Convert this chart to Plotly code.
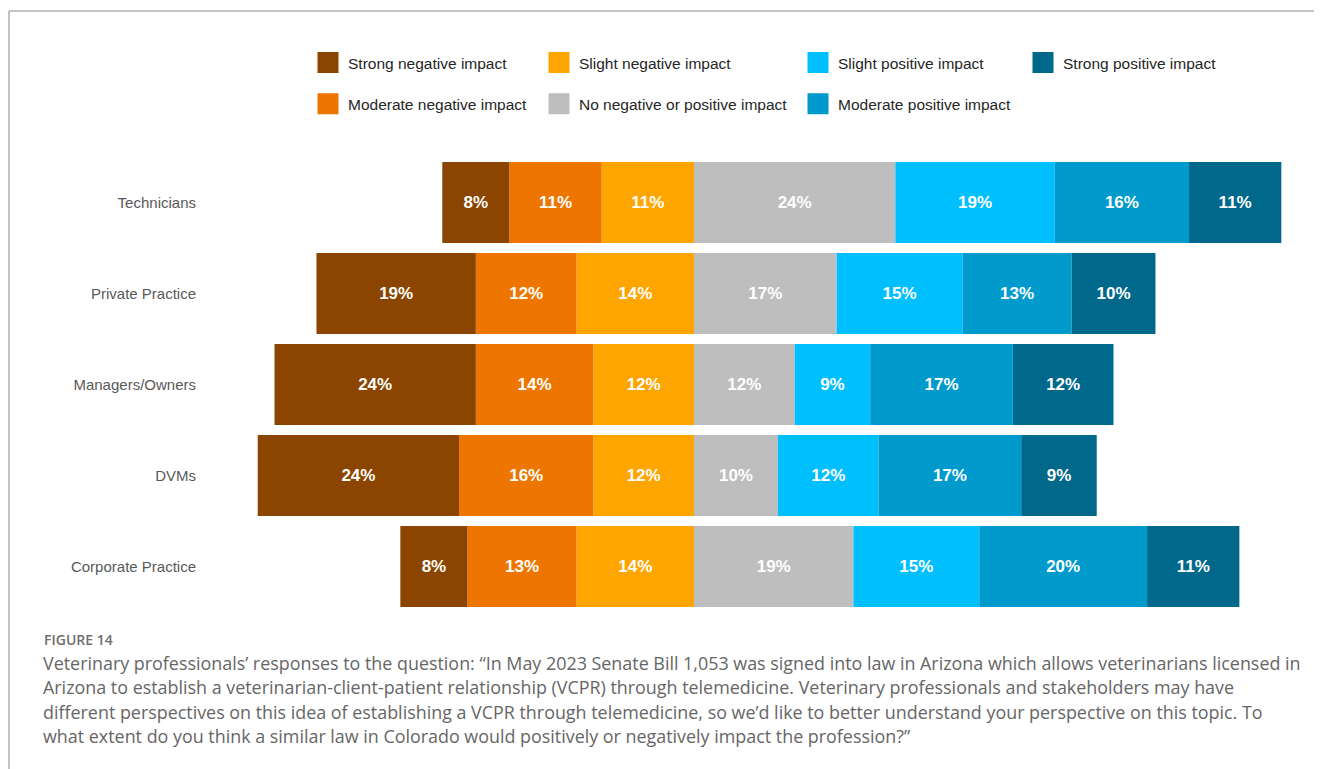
import plotly.graph_objects as go

groups = ["Technicians", "Private Practice", "Managers/Owners", "DVMs", "Corporate Practice"]

strong_neg = [8, 19, 24, 24, 8]
moderate_neg = [11, 12, 14, 16, 13]
slight_neg = [11, 14, 12, 12, 14]
neutral = [24, 17, 12, 10, 19]
slight_pos = [19, 15, 9, 12, 15]
moderate_pos = [16, 13, 17, 17, 20]
strong_pos = [11, 10, 12, 9, 11]

labels = ["Strong negative impact", "Moderate negative impact", "Slight negative impact",
          "No negative or positive impact", "Slight positive impact",
          "Moderate positive impact", "Strong positive impact"]
colors = ["#8B4500", "#EE7600", "#FFA500", "#BEBEBE", "#00BFFF", "#009ACD", "#00688B"]
series = [strong_neg, moderate_neg, slight_neg, neutral, slight_pos, moderate_pos, strong_pos]
is_negative = [True, True, True, False, False, False, False]

caption_title = "FIGURE 14"
caption_lines = [
    "Veterinary professionals’ responses to the question: “In May 2023 Senate Bill 1,053 was signed into law in Arizona which allows veterinarians licensed in",
    "Arizona to establish a veterinarian-client-patient relationship (VCPR) through telemedicine. Veterinary professionals and stakeholders may have",
    "different perspectives on this idea of establishing a VCPR through telemedicine, so we’d like to better understand your perspective on this topic. To",
    "what extent do you think a similar law in Colorado would positively or negatively impact the profession?”",
]

# page body has an 8px margin, so the figure is a bit smaller than the window
WIN_W, WIN_H, OFF = 1322, 769, 8
W, H = WIN_W - OFF, WIN_H - OFF

# plot area in window pixels
PL, PR, PT, PB = 213, 1310, 157, 612
ML, MR, MT, MB = PL - OFF, W - (PR - OFF), PT - OFF, H - (PB - OFF)
PW, PH = W - ML - MR, H - MT - MB


def px_x(px):
    return (px - OFF - ML) / PW


def px_y(py):
    return (H - MB - (py - OFF)) / PH


fig = go.Figure()

# negatives stack leftwards from zero, nearest first
order = [2, 1, 0, 3, 4, 5, 6]
for i in order:
    vals = series[i]
    fig.add_trace(go.Bar(
        y=groups,
        x=[-v if is_negative[i] else v for v in vals],
        orientation="h",
        name=labels[i],
        marker=dict(color=colors[i], line=dict(width=0)),
        text=[f"{v}%" for v in vals],
        textposition="inside",
        insidetextanchor="middle",
        textangle=0,
        textfont=dict(color="white", size=17, family="Arial, Liberation Sans", weight="bold"),
        customdata=vals,
        hovertemplate="%{y}<br>" + labels[i] + ": %{customdata}%<extra></extra>",
        showlegend=False,
    ))

# legend entries: 4 columns, 2 rows, column-major
legend_cols = [[0, 1], [2, 3], [4, 5], [6]]
col_x = [308, 539, 798, 1023]
for c, idxs in enumerate(legend_cols):
    lname = "legend" if c == 0 else f"legend{c + 1}"
    for i in idxs:
        fig.add_trace(go.Scatter(
            x=[None], y=[None], mode="markers", name=labels[i],
            marker=dict(symbol="square", size=16, color=colors[i], line=dict(width=5, color=colors[i])),
            legend=lname, legendgroup=labels[i], hoverinfo="skip",
        ))

legend_style = dict(
    orientation="v", xanchor="left", yanchor="top",
    y=px_y(46), font=dict(size=15.5, color="#262626", family="Arial, Liberation Sans"),
    tracegroupgap=18, bgcolor="rgba(0,0,0,0)", itemclick=False, itemdoubleclick=False,
)

annotations = [dict(
    text=caption_title, xref="paper", yref="paper", x=px_x(42), y=px_y(639),
    xanchor="left", yanchor="middle", showarrow=False,
    font=dict(size=14, color="#6e6e6e", family="Open Sans", weight=600),
)]
for k, line in enumerate(caption_lines):
    annotations.append(dict(
        text=line, xref="paper", yref="paper", x=px_x(41), y=px_y(663 + k * 24.3),
        xanchor="left", yanchor="middle", showarrow=False,
        font=dict(size=17.9, color="#666666", family="Open Sans"),
    ))

fig.update_layout(
    width=W, height=H,
    margin=dict(l=ML, r=MR, t=MT, b=MB, autoexpand=False),
    barmode="relative",
    bargap=0.11,
    plot_bgcolor="white",
    paper_bgcolor="white",
    font=dict(family="Arial, Liberation Sans", color="#595959"),
    xaxis=dict(range=[-57.33, 73.42], visible=False, fixedrange=True),
    yaxis=dict(autorange="reversed", showgrid=False, zeroline=False, showline=False,
               ticks="", ticklabelstandoff=16, fixedrange=True,
               tickfont=dict(size=15, color="#595959", family="Arial, Liberation Sans")),
    legend=dict(x=px_x(col_x[0]), **legend_style),
    legend2=dict(x=px_x(col_x[1]), **legend_style),
    legend3=dict(x=px_x(col_x[2]), **legend_style),
    legend4=dict(x=px_x(col_x[3]), **legend_style),
    annotations=annotations,
    shapes=[
        dict(type="line", xref="paper", yref="paper", x0=px_x(9), x1=px_x(WIN_W), y0=px_y(11), y1=px_y(11),
             line=dict(color="#b0b0b0", width=1.5)),
        dict(type="line", xref="paper", yref="paper", x0=px_x(9), x1=px_x(9), y0=px_y(11), y1=px_y(WIN_H),
             line=dict(color="#b0b0b0", width=1.5)),
    ],
)

fig.write_html("out.html")
